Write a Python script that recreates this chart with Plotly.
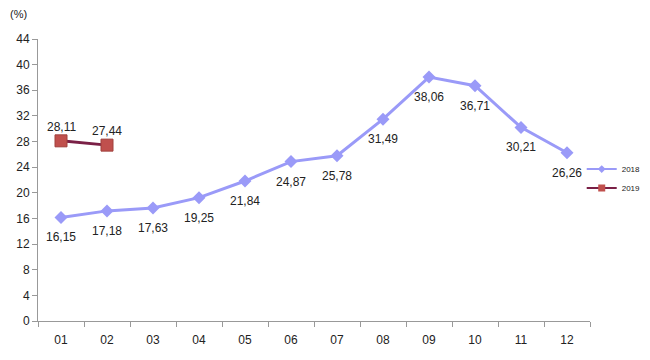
import plotly.graph_objects as go

months = ["01", "02", "03", "04", "05", "06", "07", "08", "09", "10", "11", "12"]
s2018 = [16.15, 17.18, 17.63, 19.25, 21.84, 24.87, 25.78, 31.49, 38.06, 36.71, 30.21, 26.26]
s2019 = [28.11, 27.44]
yticks = [0, 4, 8, 12, 16, 20, 24, 28, 32, 36, 40, 44]

C18 = "#9A9AF8"
C19_LINE = "#7A2046"
C19_MARK = "#C0504D"
LABEL_FONT = dict(family="Liberation Sans, Arial", size=12, color="#222")

def fmt(v):
    return f"{v:.2f}".replace(".", ",")

fig = go.Figure()
fig.add_trace(go.Scatter(
    x=months, y=s2018, name="2018", mode="lines+markers", showlegend=False,
    line=dict(color=C18, width=3),
    marker=dict(symbol="diamond", size=10, color=C18),
))
fig.add_trace(go.Scatter(
    x=months[:len(s2019)], y=s2019, name="2019", mode="lines+markers", showlegend=False,
    line=dict(color=C19_LINE, width=3),
    marker=dict(symbol="square", size=12, color=C19_MARK, line=dict(color="#A0403D", width=1)),
))
# legend-only entries (smaller symbols as in the reference legend)
fig.add_trace(go.Scatter(
    x=[None], y=[None], name="2018", mode="lines+markers",
    line=dict(color=C18, width=2), marker=dict(symbol="diamond", size=6, color=C18),
))
fig.add_trace(go.Scatter(
    x=[None], y=[None], name="2019", mode="lines+markers",
    line=dict(color=C19_LINE, width=2), marker=dict(symbol="square", size=7, color=C19_MARK),
))

annotations = [dict(text="(%)", xref="paper", yref="paper", x=-0.055, y=1.09,
                    xanchor="left", yanchor="middle", showarrow=False,
                    font=dict(size=11))]
# on a category axis, annotation x is the category index
for i, v in enumerate(s2018):
    annotations.append(dict(x=i, y=v, text=fmt(v), showarrow=False, yshift=-20,
                            xanchor="center", yanchor="middle", font=LABEL_FONT))
for i, v in enumerate(s2019):
    annotations.append(dict(x=i, y=v, text=fmt(v), showarrow=False, yshift=14,
                            xanchor="center", yanchor="middle", font=LABEL_FONT))

fig.update_layout(
    width=650, height=360,
    margin=dict(l=30, r=53, t=31, b=47),
    paper_bgcolor="white", plot_bgcolor="white",
    font=dict(family="Liberation Sans, Arial", size=12, color="#222"),
    legend=dict(x=0.985, y=0.59, xanchor="left", yanchor="top",
                font=dict(size=8), itemwidth=30, tracegroupgap=0,
                bgcolor="rgba(0,0,0,0)"),
    annotations=annotations,
)

fig.update_xaxes(
    type="category", categoryorder="array", categoryarray=months,
    range=[-0.5, 11.5], showline=True, linecolor="#999", linewidth=1,
    ticks="outside", tickson="boundaries", ticklen=5, tickcolor="#999",
    showgrid=False, tickfont=dict(size=12), ticklabelstandoff=8, automargin=False,
)
fig.update_yaxes(
    range=[0, 44], tickvals=yticks, showline=True, linecolor="#999", linewidth=1,
    ticks="outside", ticklen=5, tickcolor="#999", showgrid=False,
    zeroline=False, tickfont=dict(size=12), automargin=False,
)

fig.write_html("out.html")
